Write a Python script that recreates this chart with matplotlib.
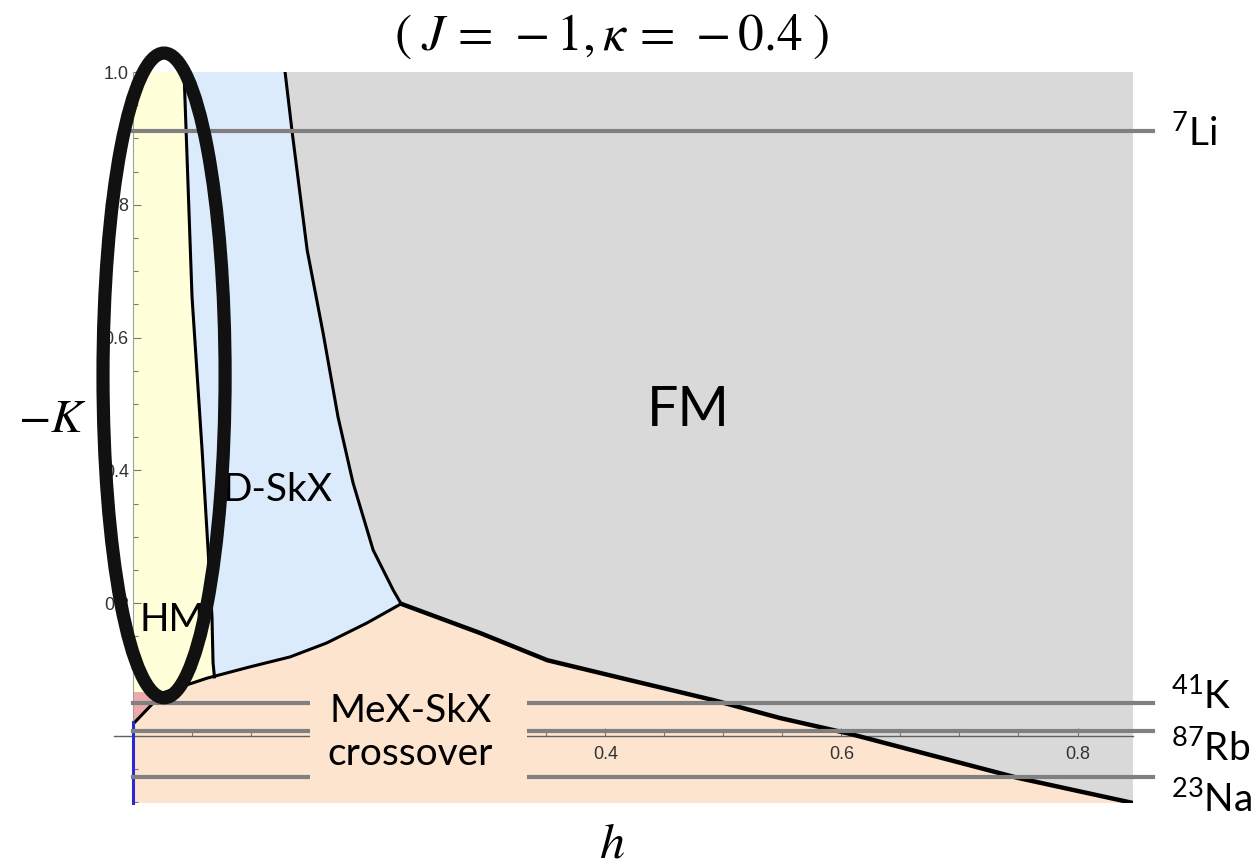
import numpy as np
import matplotlib
matplotlib.use("Agg")
import matplotlib.pyplot as plt
from matplotlib.patches import Ellipse, Rectangle
from matplotlib.ticker import MultipleLocator, FixedLocator

plt.rcParams['mathtext.fontset'] = 'custom'
plt.rcParams['mathtext.rm'] = 'Lato'

# phase boundaries (h, -K)
hm_h = [0.0432, 0.050, 0.0585, 0.0636, 0.0669, 0.0678, 0.069]
hm_k = [1.0, 0.661, 0.431, 0.280, 0.179, 0.110, 0.089]

fm_h = [0.1288, 0.1347, 0.1475, 0.161, 0.1737, 0.1864, 0.2034, 0.2203, 0.2271]
fm_k = [1.0, 0.911, 0.732, 0.607, 0.480, 0.381, 0.280, 0.220, 0.199]

low_h = [0.0017, 0.0254, 0.0627, 0.099, 0.133, 0.164, 0.198, 0.2271]
low_k = [0.021, 0.065, 0.087, 0.104, 0.119, 0.140, 0.170, 0.199]

mex_h = [0.2271, 0.294, 0.351, 0.421, 0.4915, 0.548, 0.6076, 0.749, 0.847]
mex_k = [0.199, 0.155, 0.114, 0.084, 0.054, 0.027, 0.003, -0.063, -0.101]

pink_h = [0.0, 0.0254, 0.0017, 0.0]
pink_k = [0.066, 0.066, 0.021, 0.021]

# atom species lines
iso_mass = ['7', '41', '87', '23']
iso_name = ['Li', 'K', 'Rb', 'Na']
iso_k = [0.911, 0.050, 0.0075, -0.062]
iso_label_k = [0.887, 0.039, -0.039, -0.116]

h_max, k_min, k_max = 0.847, -0.101, 1.0

c_yellow = '#FFFFDA'
c_blue = '#DCEBFB'
c_gray = '#D9D9D9'
c_peach = '#FDE4CE'
c_pink = '#EEAAAA'

fig = plt.figure(figsize=(12.59, 8.67), dpi=100)
ax = fig.add_axes([133/1259, 1 - 803/867, 1000/1259, 731/867])
ax.set_xlim(0, h_max)
ax.set_ylim(k_min, k_max)
ax.set_facecolor(c_peach)

# regions
blue_x = [0] + fm_h + low_h[::-1] + [0]
blue_y = [k_max] + fm_k + low_k[::-1] + [low_k[0]]
ax.fill(blue_x, blue_y, color=c_blue, lw=0, zorder=0.5)

yel_x = [0] + hm_h + low_h[1:3][::-1] + [0]
yel_y = [k_max] + hm_k + low_k[1:3][::-1] + [pink_k[0]]
ax.fill(yel_x, yel_y, color=c_yellow, lw=0, zorder=0.6)

ax.fill(pink_h, pink_k, color=c_pink, lw=0, zorder=0.6)

gray_x = fm_h + mex_h[1:] + [h_max]
gray_y = fm_k + mex_k[1:] + [k_max]
ax.fill(gray_x, gray_y, color=c_gray, lw=0, zorder=0.5)

# boundaries
ax.plot(hm_h, hm_k, color='black', lw=2.2, zorder=3)
ax.plot(fm_h, fm_k, color='black', lw=2.2, zorder=3)
ax.plot(low_h, low_k, color='black', lw=2.2, zorder=3)
ax.plot(mex_h, mex_k, color='black', lw=3.2, zorder=3)
ax.plot([0, 0], [k_min, low_k[0]], color='#2a2ad0', lw=2.2, zorder=3, clip_on=False)

# species lines
for k in iso_k:
    ax.plot([0, 0.864], [k, k], color='#808080', lw=3, zorder=4, clip_on=False)
for m, n, k in zip(iso_mass, iso_name, iso_label_k):
    ax.text(0.879, k, r'$^{%s}$%s' % (m, n), fontsize=28, family='Lato',
            ha='left', va='baseline', clip_on=False)

# box behind the crossover label
ax.add_patch(Rectangle((0.150, k_min), 0.184, 0.176, facecolor=c_peach,
                       edgecolor='none', zorder=5, clip_on=False))
ax.text(0.235, 0.005, 'MeX-SkX\ncrossover', fontsize=28, family='Lato',
        ha='center', va='center', linespacing=1.25, zorder=6)

ax.text(0.470, 0.49, 'FM', fontsize=40, family='Lato', ha='center', va='center', zorder=6)
ax.text(0.0755, 0.37, 'D-SkX', fontsize=28, family='Lato', ha='left', va='center', zorder=6)
ax.text(0.0055, 0.175, 'HM', fontsize=28, family='Lato', ha='left', va='center', zorder=6)

# highlight ring
ax.add_patch(Ellipse((0.0263, 0.543), 0.1034, 0.971, fill=False, lw=9.5,
                     ec='#111111', zorder=10, clip_on=False))

# axes
for s in ['top', 'right']:
    ax.spines[s].set_visible(False)
ax.spines['left'].set_position(('data', 0))
ax.spines['left'].set_bounds(low_k[0], k_max)
ax.spines['left'].set_color('#a0a0a0')
ax.spines['bottom'].set_position(('data', 0))
ax.spines['bottom'].set_bounds(-0.016, h_max)
ax.spines['bottom'].set_color('#606060')
ax.spines['bottom'].set_linewidth(1.0)

ax.xaxis.set_major_locator(FixedLocator([0.2, 0.4, 0.6, 0.8]))
ax.xaxis.set_minor_locator(MultipleLocator(0.05))
ax.yaxis.set_major_locator(FixedLocator([0.2, 0.4, 0.6, 0.8, 1.0]))
ax.yaxis.set_minor_locator(MultipleLocator(0.05))
ax.set_xticklabels(['', '0.4', '0.6', '0.8'])
ax.set_yticklabels(['0.2', '0.4', '0.6', '0.8', '1.0'])
ax.tick_params(which='both', direction='in', colors='#777777', labelcolor='#333333',
               labelsize=13)
ax.tick_params(which='major', length=6, width=0.8)
ax.tick_params(which='minor', length=3.5, width=0.8)
ax.tick_params(axis='x', pad=7)
ax.tick_params(axis='y', pad=3)
for lab in ax.get_xticklabels() + ax.get_yticklabels():
    lab.set_family('Liberation Sans')

fig.text(611/1259, 1 - 50/867, r'$(\;J\,=\,-1,\kappa\,=\,-0.4\;)$', fontsize=37,
         math_fontfamily='stix', ha='center', va='baseline')
fig.text(52/1259, 1 - 432/867, r'$-K$', fontsize=34, math_fontfamily='stix',
         ha='center', va='baseline')
fig.text(612/1259, 1 - 858/867, r'$h$', fontsize=36, math_fontfamily='stix',
         ha='center', va='baseline')

fig.savefig('out.png', dpi=100)
